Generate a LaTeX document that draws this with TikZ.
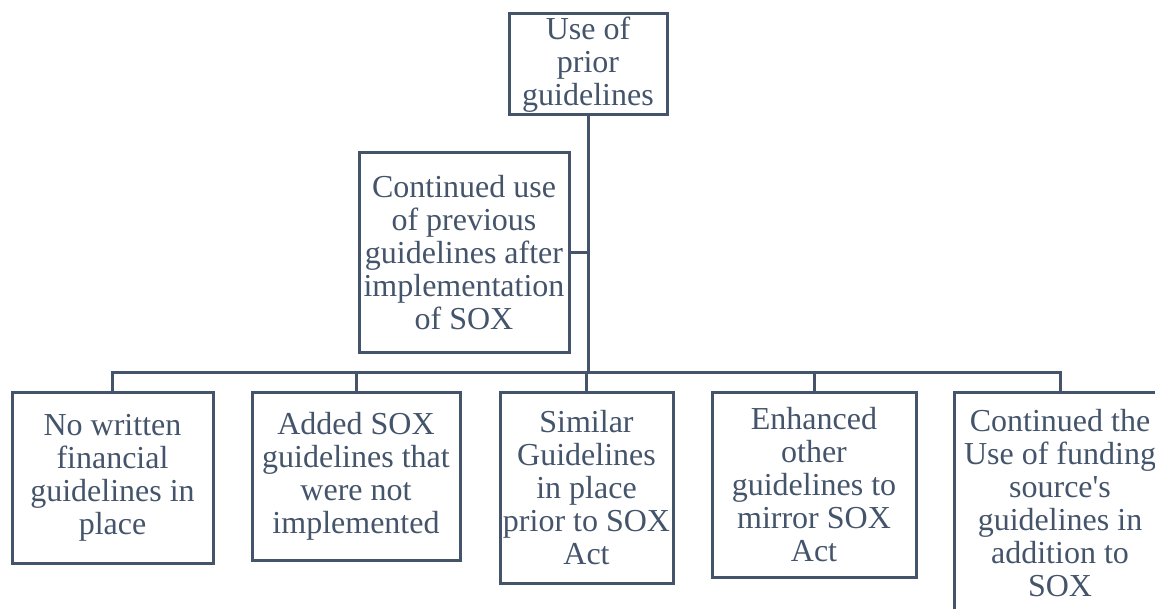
\documentclass[tikz,border=0pt]{standalone}
\usepackage{fontspec}
\setmainfont{Liberation Serif}
\definecolor{slate}{HTML}{44546A}
\tikzset{
    box/.style={draw=slate, line width=2.25pt, text=slate, align=center, inner sep=1pt,
        font=\fontsize{24}{24.75}\selectfont},
    link/.style={draw=slate, line width=2.25pt}
}
\begin{document}
\begin{tikzpicture}[x=0.75pt, y=-0.75pt]
\useasboundingbox (0,0) rectangle (1155,609);
\node[box, minimum width=118.5pt, minimum height=75.75pt] (top) at (588,64.5) {Use of\\prior\\guidelines};
\node[box, minimum width=157.5pt, minimum height=149.25pt] (side) at (464,252.5) {Continued use\\of previous\\guidelines after\\implementation\\of SOX};
\node[box, minimum width=150.75pt, minimum height=128.25pt] (none) at (112.5,477.5) {No written\\financial\\guidelines in\\place};
\node[box, minimum width=156pt, minimum height=126pt] (added) at (356,476) {Added SOX\\guidelines that\\were not\\implemented};
\node[box, minimum width=129.75pt, minimum height=143.25pt] (similar) at (586.5,487.5) {Similar\\Guidelines\\in place\\prior to SOX\\Act};
\node[box, minimum width=153pt, minimum height=138.75pt] (enhanced) at (814,484.5) {Enhanced\\other\\guidelines to\\mirror SOX\\Act};
\node[box, minimum width=159pt, minimum height=167.25pt] (funding) at (1060,503.5) {Continued the\\Use of funding\\source\textquotesingle s\\guidelines in\\addition to\\SOX};
\coordinate (bus) at (588,372);
% trunk and side branch
\draw[link] (top.south) -- (top.south |- bus);
\draw[link] (side.east) -- (side.east -| top.south);
% bus with drops
\draw[link] (none.north) -- (none.north |- bus) -| (funding.north);
\foreach \n in {added, similar, enhanced}
{
    \draw[link] (\n.north) -- (\n.north |- bus);
}
\end{tikzpicture}
\end{document}
